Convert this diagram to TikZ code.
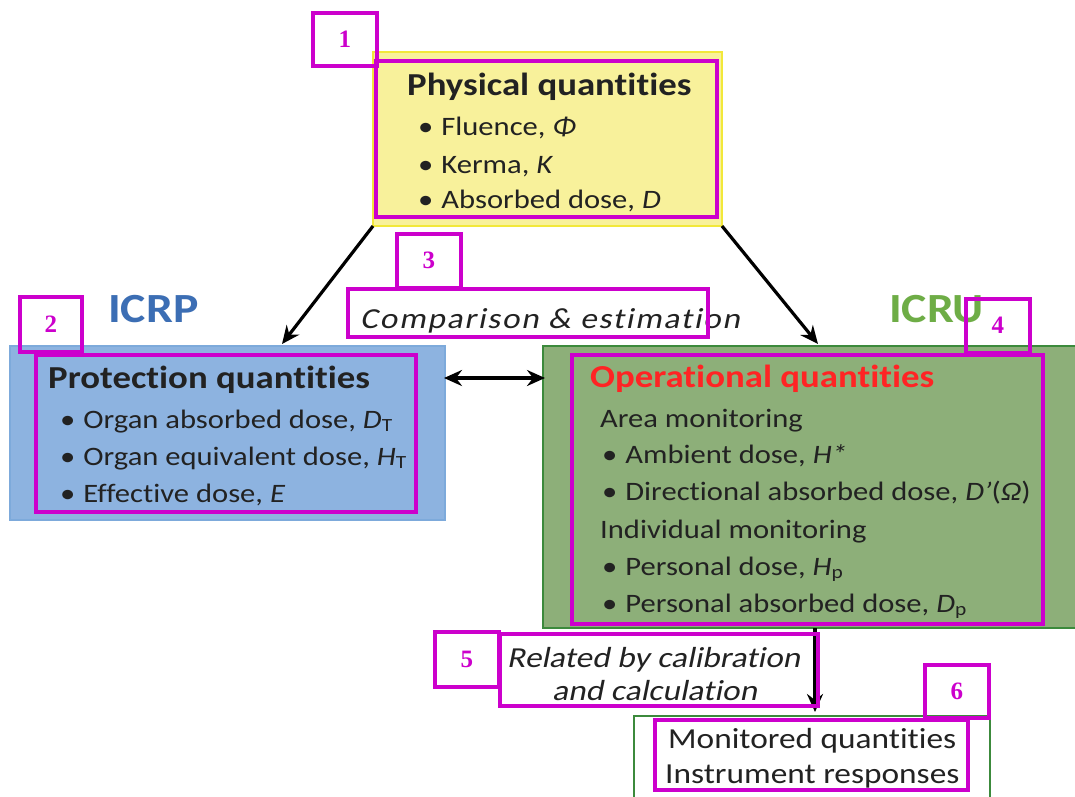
\documentclass[tikz,border=0pt]{standalone}
\usepackage{fontspec}
\setmainfont{Carlito}[FakeStretch=1.15,Ligatures=NoCommon]
\newfontfamily\slantfont{Carlito}[FakeStretch=1.15,FakeSlant=0.2,Ligatures=NoCommon]
\newfontfamily\slantwide{Carlito}[FakeStretch=1.15,FakeSlant=0.2,Ligatures=NoCommon,LetterSpace=6]
\newfontfamily\labfont{Liberation Serif}
\usetikzlibrary{arrows.meta}
\definecolor{mag}{HTML}{CC00CC}
\definecolor{yelfill}{HTML}{F8F19B}
\definecolor{yeldraw}{HTML}{F2E83A}
\definecolor{bluefill}{HTML}{8DB3E0}
\definecolor{bluedraw}{HTML}{7DAADB}
\definecolor{greenfill}{HTML}{8DAF79}
\definecolor{greendraw}{HTML}{3C8A3C}
\definecolor{icrpblue}{HTML}{3C6EB4}
\definecolor{icrugreen}{HTML}{6EAD46}
\definecolor{opred}{HTML}{FF2424}
\definecolor{txt}{HTML}{222222}
\tikzset{
  mbox/.style={draw=mag,line width=3.5pt},
  lab/.style={draw=mag,line width=3.5pt,anchor=north west,inner sep=0pt,
    font=\labfont\bfseries\fontsize{25}{25}\selectfont,text=mag},
  tl/.style={anchor=base west,inner sep=0pt,text=txt,font=\fontsize{26.6}{26.6}\selectfont},
  ttl/.style={anchor=base west,inner sep=0pt,text=txt,font=\bfseries\fontsize{32}{32}\selectfont},
  it/.style={anchor=base west,inner sep=0pt,text=txt,font=\slantfont\fontsize{29}{29}\selectfont},
  itw/.style={anchor=base west,inner sep=0pt,text=txt,font=\slantwide\fontsize{29}{29}\selectfont},
  mon/.style={anchor=base west,inner sep=0pt,text=txt,font=\fontsize{29}{29}\selectfont},
  org/.style={anchor=base west,inner sep=0pt,font=\bfseries\fontsize{41.5}{41.5}\selectfont},
  arr/.style={line width=3.2pt,-{Stealth[length=18pt,width=16pt,inset=6pt]}},
  darr/.style={line width=3.2pt,{Stealth[length=18pt,width=16pt,inset=6pt]}-{Stealth[length=18pt,width=16pt,inset=6pt]}},
}
\newcommand{\bul}{\textbullet\hspace{0.3em}}
\begin{document}
\begin{tikzpicture}[x=1pt,y=-1pt]
\clip (0,0) rectangle (1075,796);
\fill[white] (0,0) rectangle (1075,796);
% boxes
\draw[fill=yelfill,draw=yeldraw,line width=1.5pt] (373,52) rectangle (722,226);
\coordinate (ysw) at (373,226);
\coordinate (yse) at (722,226);
\draw[fill=bluefill,draw=bluedraw,line width=1.2pt] (10,346) rectangle (445,520);
\draw[fill=greenfill,draw=greendraw,line width=1.2pt] (543,346) rectangle (1080,628);
\draw[fill=white,draw=greendraw,line width=1.2pt] (634,716) rectangle (990,810);
% headings
\node[org,text=icrpblue] (icrp) at (108,322) {ICRP};
\node[org,text=icrugreen] (icru) at (889,322) {ICRU};
% physical
\node[ttl] (phys) at (407,95) {Physical quantities};
\node[tl] (p1) at (418,135) {\bul Fluence, \textit{Φ}};
\node[tl] (p2) at (418,173) {\bul Kerma, \textit{K}};
\node[tl] (p3) at (418,208) {\bul Absorbed dose, \textit{D}};
% protection
\node[ttl] (prot) at (48,388) {Protection quantities};
\node[tl] (q1) at (60,428) {\bul Organ absorbed dose, \textit{D}\textsubscript{T}};
\node[tl] (q2) at (60,465) {\bul Organ equivalent dose, \textit{H}\textsubscript{T}};
\node[tl] (q3) at (60,502) {\bul Effective dose, \textit{E}};
% operational
\node[ttl,text=opred] (oper) at (590,387) {Operational quantities};
\node[tl] (o1) at (600,427) {Area monitoring};
\node[tl] (o2) at (602,463) {\bul Ambient dose, \textit{H*}};
\node[tl] (o3) at (602,500) {\bul Directional absorbed dose, \textit{D’}(\textit{Ω})};
\node[tl] (o4) at (600,538) {Individual monitoring};
\node[tl] (o5) at (602,575) {\bul Personal dose, \textit{H}\textsubscript{p}};
\node[tl] (o6) at (602,612) {\bul Personal absorbed dose, \textit{D}\textsubscript{p}};
% comparison
\node[itw] (comp) at (360,328) {Comparison \& estimation};
% calibration
\node[it] (rel1) at (507,667) {Related by calibration};
\node[it] (rel2) at (552,700) {and calculation};
% monitored
\node[mon] (m1) at (668,748) {Monitored quantities};
\node[mon] (m2) at (665,783) {Instrument responses};
% connectors
\coordinate (bt) at (282,344);
\coordinate (gt) at (818,344);
\coordinate (br) at (444,378);
\coordinate (gl) at (545,378);
\coordinate (gb) at (815,628);
\coordinate (wt) at (815,712);
\draw[arr] (ysw) -- (bt);
\draw[arr] (yse) -- (gt);
\draw[darr] (br) -- (gl);
\draw[arr] (gb) -- (wt);
% magenta annotation boxes
\draw[mbox] (376,61) rectangle (717,217);
\draw[mbox] (36,355) rectangle (416,512);
\draw[mbox] (572,355) rectangle (1043,624);
\draw[mbox] (348,289) rectangle (708,337);
\draw[mbox] (500,634) rectangle (818,706);
\draw[mbox] (655,720) rectangle (968,790);
\node[lab,minimum width=64pt,minimum height=53pt] (l1) at (311,11) {1};
\node[lab,minimum width=62pt,minimum height=55pt] (l2) at (18,295) {2};
\node[lab,minimum width=64pt,minimum height=54pt] (l3) at (395,232) {3};
\node[lab,minimum width=64pt,minimum height=54pt] (l4) at (964,297) {\raisebox{-8pt}{4}};
\node[lab,minimum width=64pt,minimum height=55pt] (l5) at (433,630) {5};
\node[lab,minimum width=64pt,minimum height=53pt] (l6) at (923,663) {6};
\end{tikzpicture}
\end{document}
